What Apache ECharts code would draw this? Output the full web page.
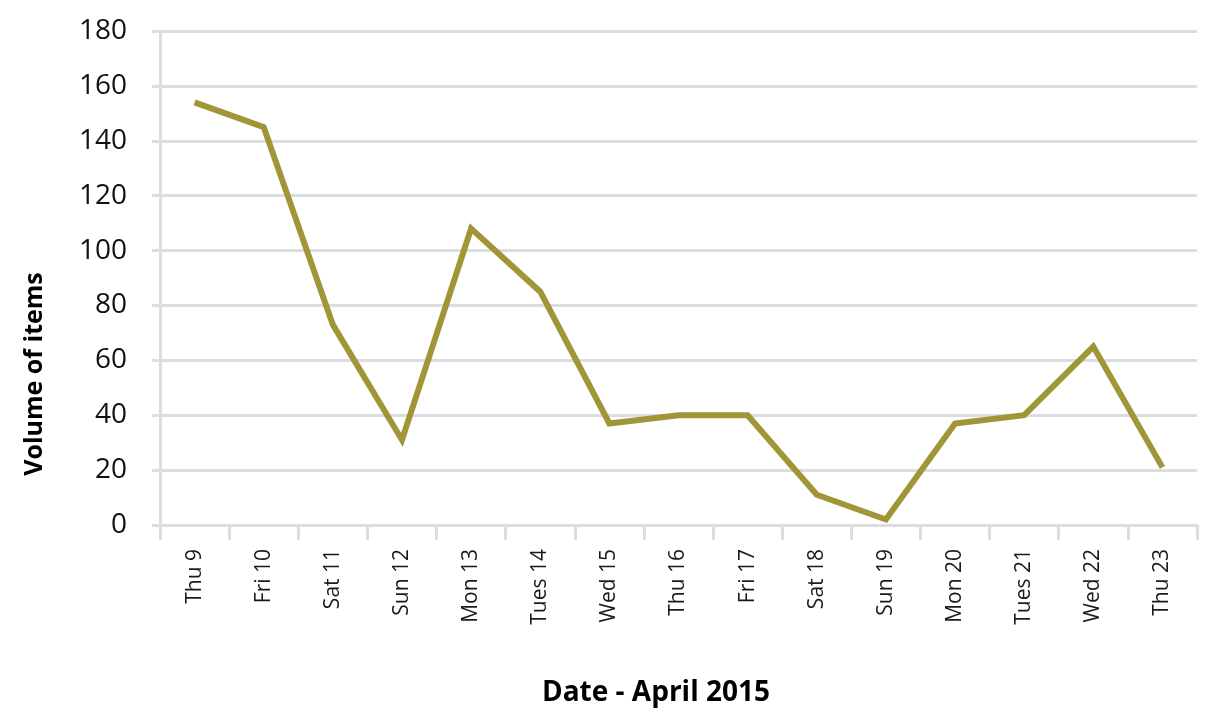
<!DOCTYPE html>
<html><head><meta charset="utf-8">
<script src="https://cdn.jsdelivr.net/npm/echarts@6/dist/echarts.min.js"></script>
<style>html,body{margin:0;padding:0;background:#fff}#c{width:1229px;height:720px}</style>
</head><body><div id="c"></div>
<script>
const categories = ['Thu 9','Fri 10','Sat 11','Sun 12','Mon 13','Tues 14','Wed 15','Thu 16','Fri 17','Sat 18','Sun 19','Mon 20','Tues 21','Wed 22','Thu 23'];
const volumes = [154, 145, 73, 31, 108, 85, 37, 40, 40, 11, 2, 37, 40, 65, 21];
const yTicks = [0, 20, 40, 60, 80, 100, 120, 140, 160, 180];
const xTitle = 'Date - April 2015';
const yTitle = 'Volume of items';

const chart = echarts.init(document.getElementById('c'), null, {renderer: 'canvas'});
const grey = '#DCDDDE';
chart.setOption({
  animation: false,
  backgroundColor: '#fff',
  grid: {left: 160, right: 32, top: 31, bottom: 195, containLabel: false},
  xAxis: {
    type: 'category',
    data: categories,
    boundaryGap: true,
    axisLine: {show: true, lineStyle: {color: grey, width: 3}},
    axisTick: {show: true, length: 15, alignWithLabel: false, lineStyle: {color: grey, width: 3}},
    axisLabel: {rotate: 90, margin: 24, color: '#1a1a1a', fontSize: 21, fontFamily: '"Open Sans", sans-serif'},
    splitLine: {show: false}
  },
  yAxis: {
    type: 'value',
    min: yTicks[0],
    max: yTicks[yTicks.length - 1],
    interval: 20,
    axisLine: {show: true, lineStyle: {color: grey, width: 3}},
    axisTick: {show: true, length: 8, lineStyle: {color: grey, width: 3}},
    axisLabel: {margin: 33, color: '#111', fontSize: 28, fontFamily: '"Open Sans", sans-serif'},
    splitLine: {show: true, lineStyle: {color: grey, width: 3}}
  },
  series: [{
    type: 'line',
    data: volumes,
    symbol: 'none',
    lineStyle: {color: '#A09637', width: 6, join: 'miter'},
    itemStyle: {color: '#A09637'}
  }],
  graphic: [
    {type: 'text', x: 656, y: 693, style: {text: xTitle, align: 'center', verticalAlign: 'middle', font: 'bold 28px "Open Sans", sans-serif', fill: '#000'}},
    {type: 'text', x: 35, y: 374, rotation: Math.PI / 2, style: {text: yTitle, align: 'center', verticalAlign: 'middle', font: 'bold 25px "Open Sans", sans-serif', fill: '#000'}}
  ]
});
</script></body></html>
